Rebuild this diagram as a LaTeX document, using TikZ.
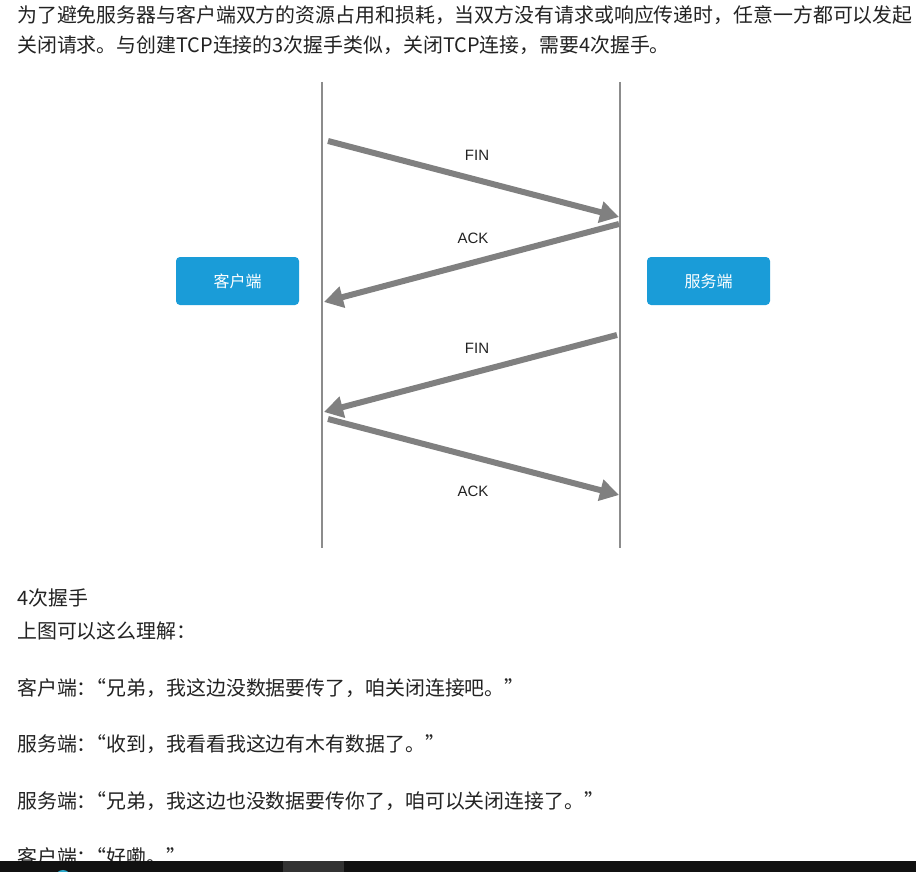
\documentclass[tikz,border=0pt]{standalone}
\usepackage{fontspec}
\setmainfont{Noto Sans CJK SC}
\newfontfamily\msgfont{Liberation Sans}
\usetikzlibrary{arrows.meta}
\definecolor{boxblue}{HTML}{1A9CD8}
\definecolor{msggray}{HTML}{808080}
\definecolor{linegray}{HTML}{8C8C8C}
\definecolor{textdark}{HTML}{222222}
\definecolor{barblack}{HTML}{111111}
\definecolor{bargray}{HTML}{333333}
\definecolor{iconcyan}{HTML}{2AA7C8}
% opening quote set tight after the colon
\newcommand\openq{\kern-0.5em“}

\begin{document}
\begin{tikzpicture}[x=1pt,y=-1pt,
    lifeline/.style={linegray,line width=1.3pt},
    endbox/.style={fill=boxblue,rounded corners=4pt,minimum width=123pt,minimum height=48pt,
      text=white,font=\fontsize{16}{16}\selectfont,inner sep=0pt},
    msg/.style={msggray,line width=6pt,-{Triangle[length=19pt,width=21pt]}},
    msglabel/.style={font=\msgfont\fontsize{15}{15}\selectfont,text=textdark,inner sep=0pt},
    para/.style={anchor=base west,inner sep=0pt,font=\fontsize{19.9}{19.9}\selectfont,text=textdark}]
    % Page
    \useasboundingbox (0,0) rectangle (916,872);
    \clip (0,0) rectangle (916,872);
    \fill[white] (0,0) rectangle (916,872);

    % Text above the picture
    \node[para] (intro1) at (17,23) {为了避免服务器与客户端双方的资源占用和损耗，当双方没有请求或响应传递时，任意一方都可以发起};
    \node[para] (intro2) at (17,53) {关闭请求。与创建TCP连接的3次握手类似，关闭TCP连接，需要4次握手。};

    % Lifelines
    \coordinate (cTop) at (322,82);
    \coordinate (cBot) at (322,548);
    \coordinate (sTop) at (620,82);
    \coordinate (sBot) at (620,548);
    \draw[lifeline] (cTop) -- (cBot);
    \draw[lifeline] (sTop) -- (sBot);

    % Both ends
    \node[endbox] (client) at (237.5,281) {客户端};
    \node[endbox] (server) at (708.5,281) {服务端};

    % Messages
    \coordinate (fin1s) at (328,141);
    \coordinate (fin1e) at (619,217);
    \coordinate (ack1s) at (619,224);
    \coordinate (ack1e) at (324,302);
    \coordinate (fin2s) at (617,335);
    \coordinate (fin2e) at (324,412);
    \coordinate (ack2s) at (328,419);
    \coordinate (ack2e) at (619,495);
    \draw[msg] (fin1s) -- (fin1e);
    \draw[msg] (ack1s) -- (ack1e);
    \draw[msg] (fin2s) -- (fin2e);
    \draw[msg] (ack2s) -- (ack2e);

    \node[msglabel] (finA) at (477,155) {FIN};
    \node[msglabel] (ackA) at (473,238) {ACK};
    \node[msglabel] (finB) at (477,348) {FIN};
    \node[msglabel] (ackB) at (473,491) {ACK};

    % Text below the picture
    \node[para] (caption) at (17,605) {4次握手};
    \node[para] (explain) at (17,638) {上图可以这么理解：};
    \node[para] (talk1) at (17,695) {客户端：\openq 兄弟，我这边没数据要传了，咱关闭连接吧。”};
    \node[para] (talk2) at (17,751) {服务端：\openq 收到，我看看我这边有木有数据了。”};
    \node[para] (talk3) at (17,808) {服务端：\openq 兄弟，我这边也没数据要传你了，咱可以关闭连接了。”};
    \node[para] (talk4) at (17,864) {客户端：\openq 好嘞。”};

    % Bar at the bottom
    \fill[barblack] (0,861) rectangle (916,872);
    \fill[bargray] (283,861) rectangle (344,872);
    \draw[iconcyan,line width=2pt] (63,878) circle (7);
\end{tikzpicture}
\end{document}
